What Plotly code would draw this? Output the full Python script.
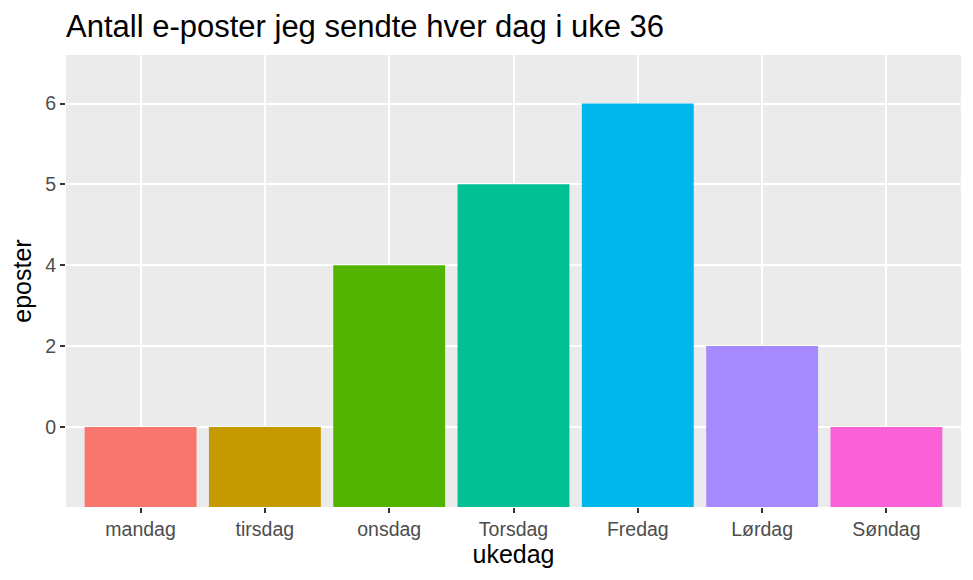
import plotly.graph_objects as go

# Data
days = ["mandag", "tirsdag", "onsdag", "Torsdag", "Fredag", "Lørdag", "Søndag"]
emails = [0, 0, 4, 5, 6, 2, 0]
colors = ["#F8766D", "#C49A00", "#53B400", "#00C094", "#00B6EB", "#A58AFF", "#FB61D7"]

# y is treated as a discrete scale (as in the original), one slot per distinct value
levels = sorted(set(emails))
level_pos = [levels.index(v) for v in emails]
y_min = -0.99

fig = go.Figure(
    go.Bar(
        x=days,
        y=[p - y_min for p in level_pos],
        base=y_min,
        marker=dict(color=colors, line=dict(width=0)),
        width=0.9,
        showlegend=False,
    )
)

# page body has an 8px margin, so the figure is a bit smaller than the window
W, H = 965, 572
font = "Liberation Sans, Arial, sans-serif"
fig.update_layout(
    width=W,
    height=H,
    margin=dict(l=58, r=12, t=47, b=73),
    paper_bgcolor="white",
    plot_bgcolor="#EBEBEB",
    font=dict(family=font, color="#000000"),
    title=dict(
        text="Antall e-poster jeg sendte hver dag i uke 36",
        x=58 / W, xanchor="left", y=1 - 18 / H, yanchor="middle",
        font=dict(size=31, color="#000000"),
    ),
    bargap=0.1,
)
fig.update_xaxes(
    title=dict(text="ukedag", font=dict(size=25), standoff=4),
    range=[-0.6, len(days) - 0.4],
    showgrid=True, gridcolor="white", gridwidth=2,
    ticks="outside", ticklen=5, tickcolor="#333333", tickwidth=2,
    tickfont=dict(size=19.5, color="#4D4D4D"),
    zeroline=False, showline=False,
)
fig.update_yaxes(
    title=dict(text="eposter", font=dict(size=25), standoff=8),
    range=[y_min, len(levels) - 1 + 0.6],
    tickmode="array",
    tickvals=list(range(len(levels))),
    ticktext=[str(v) for v in levels],
    showgrid=True, gridcolor="white", gridwidth=2,
    ticks="outside", ticklen=5, tickcolor="#333333", tickwidth=2,
    tickfont=dict(size=19.5, color="#4D4D4D"),
    zeroline=False, showline=False,
)

fig.write_html("out.html")
